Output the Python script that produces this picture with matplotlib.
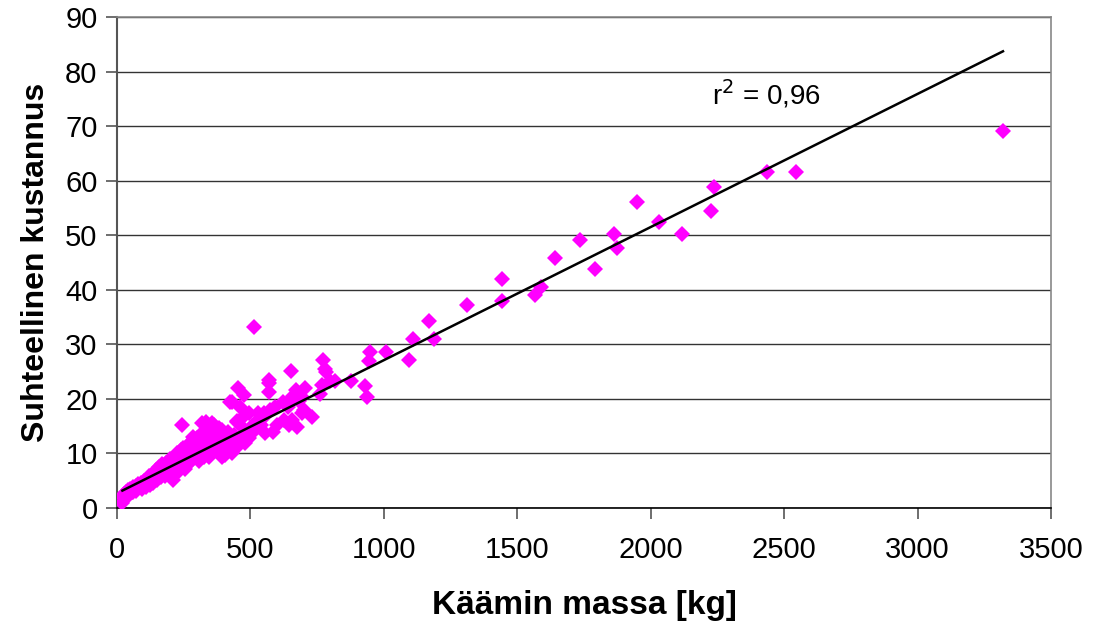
import matplotlib
matplotlib.use("Agg")
import matplotlib.pyplot as plt

plt.rcParams['font.family'] = ['Liberation Sans', 'DejaVu Sans']

# winding mass [kg] and relative cost
massa = [20, 22, 25, 28, 30, 35, 38, 40, 45, 50, 55, 58, 60, 65, 70, 72, 78, 80, 85, 90,
         92, 98, 100, 105, 108, 112, 115, 120, 122, 125, 130, 132, 135, 138, 140, 145, 148, 150, 155, 158,
         160, 165, 168, 170, 175, 178, 180, 185, 188, 190, 195, 198, 200, 205, 208, 210, 212, 215, 218, 222,
         225, 228, 230, 235, 238, 240, 243, 245, 248, 252, 255, 258, 262, 265, 268, 272, 275, 278, 280, 285,
         288, 292, 295, 300, 302, 306, 310, 315, 318, 322, 325, 330, 332, 338, 340, 344, 350, 355, 356, 360,
         365, 368, 372, 376, 381, 385, 390, 393, 394, 400, 406, 410, 415, 419, 425, 431, 438, 445, 450, 460,
         470, 481, 488, 495, 505, 515, 525, 540, 560,
         424, 430, 449, 455, 461, 474, 476, 493, 499, 514, 530, 549, 555, 568, 568, 568, 574, 586, 593, 600,
         620, 624, 640, 643, 649, 652, 655, 660, 661, 669, 674, 680, 693, 693, 699, 705, 730, 762, 768, 772,
         779, 783, 799, 818, 877, 928, 935, 944, 949, 1008,
         1093, 1109, 1170, 1188, 1310, 1443, 1443, 1568, 1587, 1643, 1734, 1791, 1862, 1874, 1948, 2031, 2118,
         2227, 2237, 2437, 2543, 3320]
kustannus = [1.0, 2.0, 2.6, 1.6, 2.3, 3.0, 2.4, 3.3, 2.8, 3.5, 3.0, 3.8, 2.9, 3.4, 4.0, 3.2, 3.6, 4.4, 3.9, 4.6,
             3.5, 4.2, 5.0, 4.5, 3.8, 5.4, 4.9, 5.8, 4.3, 5.2, 6.1, 5.0, 4.6, 6.5, 5.6, 7.0, 6.0, 5.2, 6.8, 7.5,
             6.2, 5.6, 7.2, 8.0, 6.6, 7.6, 5.9, 8.2, 7.0, 6.4, 8.6, 7.4, 9.0, 6.8, 8.0, 5.2, 7.6, 9.4, 8.4, 7.2,
             10.0, 8.8, 6.6, 9.6, 7.8, 10.6, 15.2, 8.6, 11.0, 9.2, 7.2, 10.2, 8.0, 11.6, 9.6, 8.4, 12.0, 10.4, 8.8, 13.0,
             11.0, 9.4, 12.4, 12.8, 10.2, 8.6, 11.6, 13.6, 15.6, 10.8, 9.4, 12.6, 15.8, 11.4, 14.2, 9.4, 13.0, 15.6, 10.3, 12.0,
             15.2, 11.2, 13.6, 10.4, 14.6, 12.4, 10.0, 9.4, 14.3, 13.0, 9.7, 11.6, 14.0, 11.3, 12.6, 10.0, 13.4, 11.0, 15.8, 12.2,
             14.8, 11.9, 13.7, 12.8, 15.0, 14.2, 16.0, 15.2, 17.0,
             19.5, 19.5, 15.9, 22.0, 18.6, 16.8, 20.8, 17.4, 13.7, 33.1, 17.4, 17.4, 13.8, 23.5, 22.9, 21.2, 18.0, 14.0, 18.6, 15.2,
             19.5, 16.2, 18.6, 15.2, 19.8, 25.2, 16.2, 20.6, 20.4, 21.7, 14.9, 19.6, 20.3, 17.4, 18.0, 22.0, 16.6, 20.9, 22.6, 27.2,
             25.5, 24.9, 23.2, 23.2, 23.3, 22.3, 20.4, 26.9, 28.6, 28.6,
             27.2, 30.9, 34.2, 30.9, 37.2, 38.0, 41.9, 39.1, 40.5, 45.8, 49.2, 43.8, 50.3, 47.7, 56.1, 52.4, 50.3,
             54.4, 58.8, 61.6, 61.5, 69.1]

# linear trend line shown in the chart
kulmakerroin = 0.0244
vakio = 2.7
r2_teksti = "r$^2$ = 0,96"

fig = plt.figure(figsize=(10.94, 6.22), dpi=100)
ax = fig.add_axes([0.107, 0.1833, 0.8537, 0.7894])

ax.plot(massa, kustannus, linestyle='none', marker='D', markersize=8,
        color='#FF00FF', markeredgewidth=0, zorder=3)

xs = [min(massa), max(massa)]
ax.plot(xs, [kulmakerroin * x + vakio for x in xs], color='black', linewidth=1.8, zorder=4)

ax.text(2230, 75.9, r2_teksti, fontsize=20, va='center', ha='left')

ax.set_xlim(0, 3500)
ax.set_ylim(0, 90)
ax.set_xticks(range(0, 3501, 500))
ax.set_yticks(range(0, 91, 10))
ax.yaxis.grid(True, color='#333333', linewidth=1.0)
ax.set_axisbelow(True)

ax.tick_params(axis='both', labelsize=21, direction='out', length=8, width=1.2, color='#555555')
ax.tick_params(axis='x', pad=12)
ax.tick_params(axis='y', pad=6)

for s in ['top', 'right']:
    ax.spines[s].set_color('#888888')
    ax.spines[s].set_linewidth(1.2)
ax.spines['left'].set_color('#555555')
ax.spines['left'].set_linewidth(1.5)
ax.spines['bottom'].set_color('black')
ax.spines['bottom'].set_linewidth(1.2)

ax.set_xlabel("Käämin massa [kg]", fontsize=24, fontweight='bold', labelpad=19)
ax.set_ylabel("Suhteellinen kustannus", fontsize=23, fontweight='bold', labelpad=10)

fig.savefig("out.png", dpi=100)
